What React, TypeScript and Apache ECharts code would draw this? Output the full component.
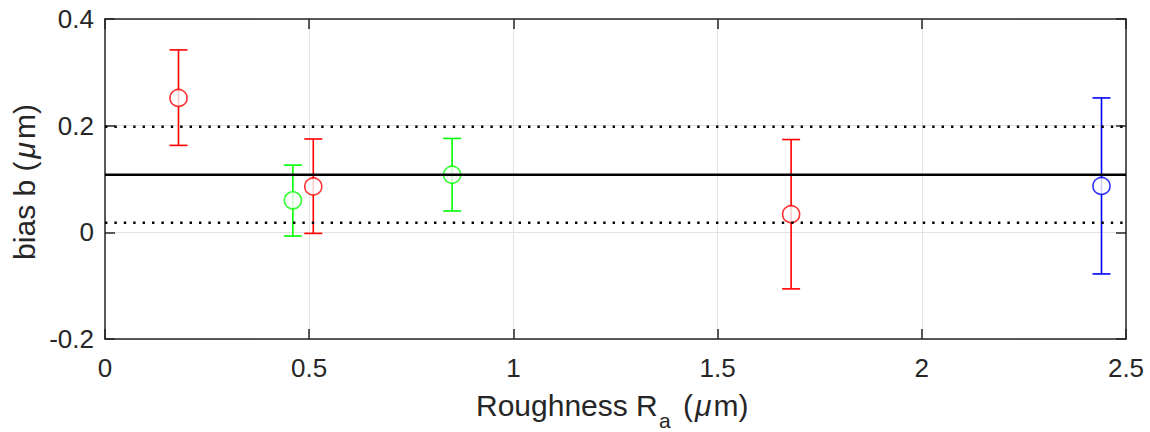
import React, { useEffect, useRef } from 'react';
import * as echarts from 'echarts';

// Data
const roughness = [0.18, 0.46, 0.51, 0.85, 1.68, 2.44];
const biasMean = [0.252, 0.060, 0.086, 0.108, 0.034, 0.087];
const biasUpper = [0.342, 0.126, 0.175, 0.176, 0.174, 0.252];
const biasLower = [0.163, -0.007, -0.002, 0.040, -0.106, -0.078];
const pointColors = ['#ff0000', '#00ff00', '#ff0000', '#00ff00', '#ff0000', '#0000ff'];
const overallBias = 0.108;
const limitUpper = 0.198;
const limitLower = 0.018;
const xTicks = [0, 0.5, 1, 1.5, 2, 2.5];
const yTicks = [-0.2, 0, 0.2, 0.4];

const FONT = "'Liberation Sans', Arial, Helvetica, sans-serif";
const AXIS = '#262626';

export default function App() {
  const ref = useRef<HTMLDivElement>(null);
  useEffect(() => {
    const chart = echarts.init(ref.current!, null, { renderer: 'svg' });
    const xMin = xTicks[0], xMax = xTicks[xTicks.length - 1];
    const yMin = yTicks[0], yMax = yTicks[yTicks.length - 1];
    const tickStyle = { show: true, inside: true, length: 10, lineStyle: { color: AXIS, width: 1.5 } };
    const lineStyle = { show: true, onZero: false, lineStyle: { color: AXIS, width: 1.5 } };
    const grid = { color: '#e3e3e3', width: 1 };

    const errData = roughness.map((x, i) => [x, biasLower[i], biasUpper[i]]);
    const ptData = roughness.map((x, i) => ({
      value: [x, biasMean[i]],
      itemStyle: { color: '#ffffff', borderColor: pointColors[i], borderWidth: 1.6 },
    }));

    chart.setOption({
      animation: false,
      grid: { left: 105, right: 24, top: 19, bottom: 93, containLabel: false },
      xAxis: [
        {
          type: 'value', position: 'bottom', min: xMin, max: xMax, interval: 0.5,
          axisLine: lineStyle, axisTick: tickStyle,
          axisLabel: { color: AXIS, fontFamily: FONT, fontSize: 26, margin: 16 },
          splitLine: { show: true, lineStyle: grid },
        },
        {
          type: 'value', position: 'top', min: xMin, max: xMax, interval: 0.5,
          axisLine: lineStyle, axisTick: tickStyle, axisLabel: { show: false }, splitLine: { show: false },
        },
      ],
      yAxis: [
        {
          type: 'value', position: 'left', min: yMin, max: yMax, interval: 0.2,
          axisLine: lineStyle, axisTick: tickStyle,
          axisLabel: { color: AXIS, fontFamily: FONT, fontSize: 26, margin: 11,
            formatter: (v: number) => String(Math.round(v * 10) / 10) },
          splitLine: { show: true, lineStyle: grid },
        },
        {
          type: 'value', position: 'right', min: yMin, max: yMax, interval: 0.2,
          axisLine: lineStyle, axisTick: tickStyle, axisLabel: { show: false }, splitLine: { show: false },
        },
      ],
      graphic: [
        {
          type: 'text', left: 476, top: 390, z: 100,
          style: { text: 'Roughness R', font: `30px ${FONT}`, fill: AXIS },
        },
        {
          type: 'text', left: 659, top: 410, z: 100,
          style: { text: 'a', font: `21px ${FONT}`, fill: AXIS },
        },
        {
          type: 'text', left: 683, top: 390, z: 100,
          style: {
            text: '({mu|μ}m)', font: `30px ${FONT}`, fill: AXIS,
            rich: { mu: { fontStyle: 'italic', fontFamily: FONT, fontSize: 30, fill: AXIS, padding: [0, 2, 0, 2] } },
          },
        },
        {
          type: 'text', x: 24, y: 182, rotation: Math.PI / 2, z: 100,
          style: {
            text: 'bias b ({mu|μ}m)', font: `30px ${FONT}`, fill: AXIS, align: 'center', verticalAlign: 'middle',
            rich: { mu: { fontStyle: 'italic', fontFamily: FONT, fontSize: 30, fill: AXIS, padding: [0, 3, 0, 3] } },
          },
        },
      ],
      series: [
        {
          type: 'custom', xAxisIndex: 0, yAxisIndex: 0, z: 3,
          data: errData,
          renderItem: (params: any, api: any) => {
            const x = api.value(0);
            const lo = api.coord([x, api.value(1)]);
            const hi = api.coord([x, api.value(2)]);
            const cap = 9;
            const style = { stroke: pointColors[params.dataIndex], lineWidth: 1.6, fill: 'none' };
            return {
              type: 'group',
              children: [
                { type: 'line', shape: { x1: lo[0], y1: lo[1], x2: hi[0], y2: hi[1] }, style },
                { type: 'line', shape: { x1: lo[0] - cap, y1: lo[1], x2: lo[0] + cap, y2: lo[1] }, style },
                { type: 'line', shape: { x1: hi[0] - cap, y1: hi[1], x2: hi[0] + cap, y2: hi[1] }, style },
              ],
            };
          },
        },
        {
          type: 'scatter', z: 4, symbol: 'circle', symbolSize: 17, data: ptData,
        },
        {
          type: 'line', z: 5, symbol: 'none', silent: true,
          data: [[xMin, overallBias], [xMax, overallBias]],
          lineStyle: { color: '#000000', width: 2.4 },
        },
        {
          type: 'line', z: 5, symbol: 'none', silent: true,
          data: [[xMin, limitUpper], [xMax, limitUpper]],
          lineStyle: { color: '#000000', width: 2.4, type: [2.4, 7] },
        },
        {
          type: 'line', z: 5, symbol: 'none', silent: true,
          data: [[xMin, limitLower], [xMax, limitLower]],
          lineStyle: { color: '#000000', width: 2.4, type: [2.4, 7] },
        },
      ],
    });
    return () => chart.dispose();
  }, []);
  return <div ref={ref} style={{ position: 'absolute', left: 0, top: 0, width: 1150, height: 432 }} />;
}
